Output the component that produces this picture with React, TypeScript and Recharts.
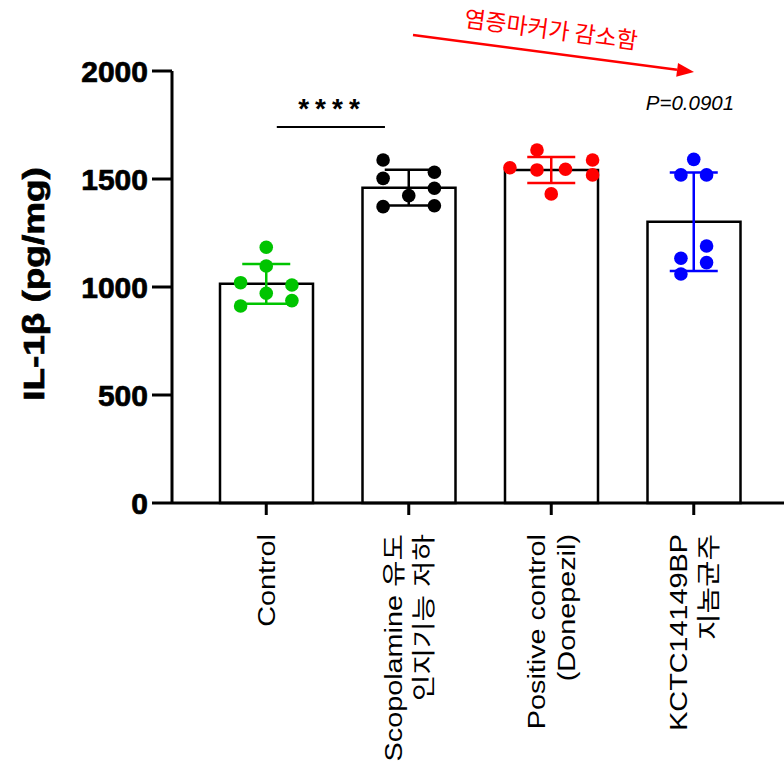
import React from "react";
import { ComposedChart, Bar, Scatter, XAxis, YAxis, ErrorBar, ReferenceLine } from "recharts";

const FONT = "'Liberation Sans', Arial, 'Noto Sans CJK KR', sans-serif";

const groups = ["Control", "Scopolamine 유도\n인지기능 저하", "Positive control\n(Donepezil)", "KCTC14149BP\n지놈균주"];
const means = [1015, 1460, 1542, 1302];
const sds = [92, 83, 60, 228];
const controlPts = [1184, 1097, 1020, 1009, 971, 912, 937];
const scopPts = [1588, 1503, 1531, 1423, 1457, 1372, 1376];
const posPts = [1634, 1552, 1542, 1545, 1588, 1519, 1431];
const kctcPts = [1591, 1519, 1519, 1190, 1133, 1113, 1060];
const colors = ["#00c400", "#000000", "#ff0000", "#0000ff"];
// dot columns (tenths of a category) so dots don't overlap
const jitter = [
  [0, 0, -1.8, 1.8, 0, -1.8, 1.8],
  [-1.8, -1.8, 1.8, 0, 1.8, -1.8, 1.8],
  [-1, -2.9, -1, 1, 2.9, 2.9, 0],
  [0, -0.9, 0.9, 0.9, -0.9, 0.9, -0.9],
];

const barData = groups.map((g, i) => ({ name: g, mean: means[i] }));
const allPts = [controlPts, scopPts, posPts, kctcPts];
const pointData = allPts.map((pts, i) => pts.map((v, j) => ({ x: i + jitter[i][j] / 10, y: v })));
const meanData = means.map((m, i) => [{ x: i, y: m, sd: sds[i] }]);

const XTick = (props: any) => {
  const { x, y, payload } = props;
  const lines = String(payload.value).split("\n");
  const fs = 24;
  return (
    <g>
      {lines.map((ln, k) => {
        const cx = x + (k - (lines.length - 1) / 2) * 30 + fs * 0.36;
        return (
          <text key={k} transform={`translate(${cx},${y}) rotate(-90) scale(1.2,1)`}
            textAnchor="end" fontSize={fs} fontFamily={FONT} fill="#000">{ln}</text>
        );
      })}
    </g>
  );
};

const Dot = (color: string) => (p: any) => <circle cx={p.cx} cy={p.cy} r={6.8} fill={color} />;

export default function App() {
  return (
    <div style={{ position: "absolute", left: 0, top: 0, width: 784, height: 763, background: "#fff" }}>
      <ComposedChart width={784} height={763} data={barData} margin={{ top: 71, right: 0, bottom: 0, left: 0 }}>
        <XAxis xAxisId="c" dataKey="name" type="category" height={260} padding={{ left: 23, right: 19 }}
          axisLine={{ stroke: "#000", strokeWidth: 3 }} tickLine={{ stroke: "#000", strokeWidth: 3 }}
          tickSize={12} tickMargin={19} tick={<XTick />} interval={0} />
        <XAxis xAxisId="n" dataKey="x" type="number" domain={[-0.5, 3.5]} padding={{ left: 23, right: 19 }}
          height={0} hide allowDataOverflow />
        <YAxis width={172} domain={[0, 2000]} ticks={[0, 500, 1000, 1500, 2000]} interval={0}
          axisLine={{ stroke: "#000", strokeWidth: 3 }} tickLine={{ stroke: "#000", strokeWidth: 3 }}
          tickSize={20} tickMargin={4}
          tick={{ fill: "#000", stroke: "#000", strokeWidth: 0.7, fontSize: 30, fontWeight: "bold", fontFamily: FONT }} />
        <Bar xAxisId="c" dataKey="mean" fill="#fff" stroke="#000" strokeWidth={2.5} barSize={93} isAnimationActive={false} />
        {meanData.map((d, i) => (
          <Scatter key={`m${i}`} xAxisId="n" data={d} dataKey="y" shape={() => <g />} isAnimationActive={false}>
            <ErrorBar dataKey="sd" direction="y" width={24} stroke={colors[i]} strokeWidth={2.5} isAnimationActive={false} />
          </Scatter>
        ))}
        {pointData.map((d, i) => (
          <Scatter key={`p${i}`} xAxisId="n" data={d} dataKey="y" shape={Dot(colors[i])} isAnimationActive={false} />
        ))}
        <ReferenceLine xAxisId="n" segment={[{ x: 0.074, y: 1741 }, { x: 0.833, y: 1741 }]}
          stroke="#000" strokeWidth={2} ifOverflow="visible" />
      </ComposedChart>
      <svg width={784} height={763} style={{ position: "absolute", left: 0, top: 0, pointerEvents: "none" }}>
        <text transform="translate(44,284) rotate(-90) scale(1.23,1)" textAnchor="middle" fontSize={30}
          fontWeight="bold" stroke="#000" strokeWidth={0.7} fontFamily={FONT} fill="#000">IL-1β (pg/mg)</text>
        <text x={332} y={118} textAnchor="middle" fontSize={28} fontWeight="bold" letterSpacing={6}
          fontFamily={FONT} fill="#000">****</text>
        <text x={690} y={110} textAnchor="middle" fontSize={20.5} fontStyle="italic" fontFamily={FONT} fill="#000">P=0.0901</text>
        <line x1={413} y1={35} x2={677} y2={69.8} stroke="#ff0000" strokeWidth={2.5} />
        <polygon points="694,72 676.2,76.7 678,62.9" fill="#ff0000" />
        <text transform="translate(551,30) rotate(7.5)" y={8} textAnchor="middle" fontSize={23}
          fontFamily="'Noto Sans CJK KR', sans-serif" fill="#ff0000">염증마커가 감소함</text>
      </svg>
    </div>
  );
}
